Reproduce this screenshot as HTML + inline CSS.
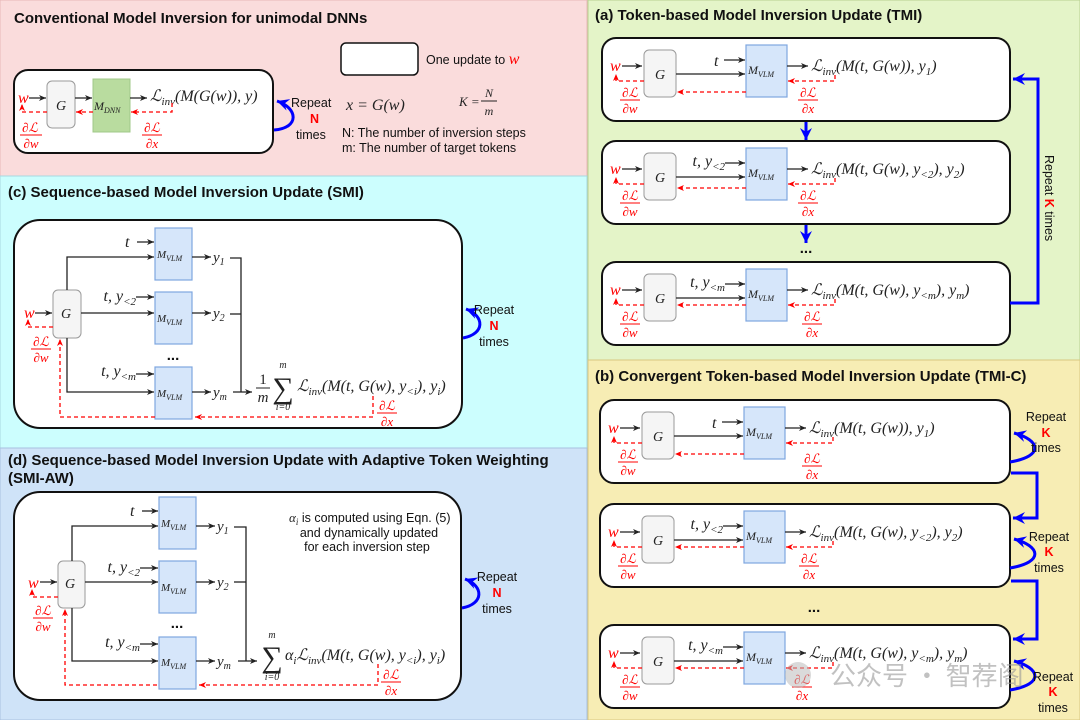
<!DOCTYPE html>
<html><head><meta charset="utf-8"><style>
html,body{margin:0;padding:0;background:#fff}
svg{display:block}
.t{font-family:"Liberation Sans",sans-serif;font-weight:bold;font-size:15px;fill:#111}
.s{font-family:"Liberation Sans",sans-serif;font-size:12.5px;fill:#111}
.m{font-family:"Liberation Serif",serif;font-style:italic;fill:#222}
.r{fill:#f00}
.row rect.b{fill:#fff;stroke:#111;stroke-width:2}
.g{fill:#f5f5f5;stroke:#9a9a9a;stroke-width:1}
.v{fill:#d6e6fa;stroke:#7ea6e0;stroke-width:1.2}
.k{stroke:#222;stroke-width:1.3;fill:none}
.d{stroke:#f00;stroke-width:1.3;fill:none;stroke-dasharray:4 3}
.bl{stroke:#0000ff;stroke-width:3;fill:none}
</style></head><body>
<svg width="1080" height="720" viewBox="0 0 1080 720" xmlns="http://www.w3.org/2000/svg">
<defs>
<marker id="ak" markerWidth="8" markerHeight="8" refX="7" refY="4" orient="auto" markerUnits="userSpaceOnUse"><path d="M0,1 L7,4 L0,7 L2,4z" fill="#222"/></marker>
<marker id="ar" markerWidth="8" markerHeight="8" refX="7" refY="4" orient="auto" markerUnits="userSpaceOnUse"><path d="M0,1 L7,4 L0,7 L2,4z" fill="#f00"/></marker>
<marker id="ab" markerWidth="14" markerHeight="14" refX="12" refY="7" orient="auto" markerUnits="userSpaceOnUse"><path d="M0,1 L12,7 L0,13 L4,7z" fill="#0000ff"/></marker>
</defs>
<!-- panels -->
<rect x="0" y="0" width="587" height="176" fill="#fadcdc" stroke="#e8b8b8"/>
<rect x="0" y="176" width="587" height="272" fill="#ccfefe" stroke="#a8d8e0"/>
<rect x="0" y="448" width="587" height="272" fill="#cfe3f8" stroke="#a8c0e0"/>
<rect x="588" y="0" width="492" height="360" fill="#e4f4c8" stroke="#b8d090"/>
<rect x="588" y="360" width="492" height="360" fill="#f7edb4" stroke="#d8c880"/>

<!-- ===== Conventional ===== -->
<text class="t" x="14" y="23">Conventional Model Inversion for unimodal DNNs</text>
<rect x="14" y="70" width="259" height="83" rx="14" fill="#fff" stroke="#111" stroke-width="2"/>
<text class="m r" x="18" y="103" font-size="16">w</text>
<line class="k" x1="29" y1="98" x2="46" y2="98" marker-end="url(#ak)"/>
<rect class="g" x="47" y="81" width="28" height="47" rx="5"/>
<text class="m" x="56" y="110" font-size="14">G</text>
<line class="k" x1="75" y1="98" x2="92" y2="98" marker-end="url(#ak)"/>
<rect x="93" y="79" width="37" height="53" fill="#b9dc9f" stroke="#a0c888"/>
<text class="m" x="94" y="110" font-size="12">M<tspan font-size="8" dy="3">DNN</tspan></text>
<line class="k" x1="130" y1="98" x2="147" y2="98" marker-end="url(#ak)"/>
<text class="m" x="150" y="101" font-size="16">ℒ<tspan font-size="11" dy="4">inv</tspan><tspan dy="-4">(M(G(w)), y)</tspan></text>
<path class="d" d="M172,103 V112 H131" marker-end="url(#ar)"/>
<path class="d" d="M93,112 H76" marker-end="url(#ar)"/>
<path class="d" d="M47,112 H22 V104" marker-end="url(#ar)"/>
<text class="m r" x="30" y="132" font-size="13" text-anchor="middle">∂ℒ</text>
<line x1="20" y1="135" x2="42" y2="135" stroke="#f00" stroke-width="1"/>
<text class="m r" x="31" y="148" font-size="13" text-anchor="middle">∂w</text>
<text class="m r" x="152" y="132" font-size="13" text-anchor="middle">∂ℒ</text>
<line x1="142" y1="135" x2="162" y2="135" stroke="#f00" stroke-width="1"/>
<text class="m r" x="152" y="148" font-size="13" text-anchor="middle">∂x</text>
<path class="bl" d="M274,130 C300,128 298,108 277,101" marker-end="url(#ab)"/>
<text class="s" x="291" y="107">Repeat</text>
<text class="s" x="310" y="123" font-weight="bold" fill="#f00" style="fill:#f00">N</text>
<text class="s" x="296" y="139">times</text>
<rect x="341" y="43" width="77" height="32" rx="5" fill="#fff" stroke="#111" stroke-width="1.5"/>
<text class="s" x="426" y="64">One update to <tspan class="m r" font-size="16">w</tspan></text>
<text class="m" x="346" y="110" font-size="16">x = G(w)</text>
<text class="m" x="459" y="106" font-size="13">K =</text>
<text class="m" x="489" y="97" font-size="12" text-anchor="middle">N</text>
<line x1="481" y1="101" x2="497" y2="101" stroke="#222" stroke-width="1"/>
<text class="m" x="489" y="115" font-size="12" text-anchor="middle">m</text>
<text class="s" x="342" y="137">N: The number of inversion steps</text>
<text class="s" x="342" y="152">m: The number of target tokens</text>

<!-- ===== (a) ===== -->
<text class="t" x="595" y="20">(a) Token-based Model Inversion Update (TMI)</text>

<!-- ROW a1 -->
<g transform="translate(602,38)">
<rect x="0" y="0" width="408" height="83" rx="14" fill="#fff" stroke="#111" stroke-width="2"/>
<text class="m r" x="8" y="33" font-size="16">w</text>
<line class="k" x1="20" y1="28" x2="40" y2="28" marker-end="url(#ak)"/>
<rect class="g" x="42" y="12" width="32" height="47" rx="5"/>
<text class="m" x="53" y="41" font-size="14">G</text>
<line class="k" x1="74" y1="36" x2="143" y2="36" marker-end="url(#ak)"/>
<text class="m" x="112" y="28" font-size="16">t</text>
<line class="k" x1="122" y1="22" x2="143" y2="22" marker-end="url(#ak)"/>
<rect class="v" x="144" y="7" width="41" height="52"/>
<text class="m" x="146" y="36" font-size="12">M<tspan font-size="8" dy="3">VLM</tspan></text>
<line class="k" x1="185" y1="28" x2="206" y2="28" marker-end="url(#ak)"/>
<text class="m" x="209" y="33" font-size="16">ℒ<tspan font-size="11" dy="4">inv</tspan><tspan dy="-4">(M(t, G(w)), y</tspan><tspan font-size="11" dy="4">1</tspan><tspan dy="-4">)</tspan></text>
<path class="d" d="M233,37 V43 H186" marker-end="url(#ar)"/>
<path class="d" d="M144,54 H75" marker-end="url(#ar)"/>
<path class="d" d="M42,43 H14 V36" marker-end="url(#ar)"/>
<text class="m r" x="28" y="59" font-size="13" text-anchor="middle">∂ℒ</text>
<line x1="18" y1="62" x2="38" y2="62" stroke="#f00"/>
<text class="m r" x="28" y="75" font-size="13" text-anchor="middle">∂w</text>
<text class="m r" x="206" y="59" font-size="13" text-anchor="middle">∂ℒ</text>
<line x1="196" y1="62" x2="216" y2="62" stroke="#f00"/>
<text class="m r" x="206" y="75" font-size="13" text-anchor="middle">∂x</text>
</g>
<!-- ROW a2 -->
<g transform="translate(602,141)">
<rect x="0" y="0" width="408" height="83" rx="14" fill="#fff" stroke="#111" stroke-width="2"/>
<text class="m r" x="8" y="33" font-size="16">w</text>
<line class="k" x1="20" y1="28" x2="40" y2="28" marker-end="url(#ak)"/>
<rect class="g" x="42" y="12" width="32" height="47" rx="5"/>
<text class="m" x="53" y="41" font-size="14">G</text>
<line class="k" x1="74" y1="36" x2="143" y2="36" marker-end="url(#ak)"/>
<text class="m" x="123" y="25" font-size="16" text-anchor="end">t, y<tspan font-size="11" dy="4">&lt;2</tspan></text>
<line class="k" x1="123" y1="22" x2="143" y2="22" marker-end="url(#ak)"/>
<rect class="v" x="144" y="7" width="41" height="52"/>
<text class="m" x="146" y="36" font-size="12">M<tspan font-size="8" dy="3">VLM</tspan></text>
<line class="k" x1="185" y1="28" x2="206" y2="28" marker-end="url(#ak)"/>
<text class="m" x="209" y="33" font-size="16">ℒ<tspan font-size="11" dy="4">inv</tspan><tspan dy="-4">(M(t, G(w), y</tspan><tspan font-size="11" dy="4">&lt;2</tspan><tspan dy="-4">), y</tspan><tspan font-size="11" dy="4">2</tspan><tspan dy="-4">)</tspan></text>
<path class="d" d="M233,37 V43 H186" marker-end="url(#ar)"/>
<path class="d" d="M144,47 H75" marker-end="url(#ar)"/>
<path class="d" d="M42,43 H14 V36" marker-end="url(#ar)"/>
<text class="m r" x="28" y="59" font-size="13" text-anchor="middle">∂ℒ</text>
<line x1="18" y1="62" x2="38" y2="62" stroke="#f00"/>
<text class="m r" x="28" y="75" font-size="13" text-anchor="middle">∂w</text>
<text class="m r" x="206" y="59" font-size="13" text-anchor="middle">∂ℒ</text>
<line x1="196" y1="62" x2="216" y2="62" stroke="#f00"/>
<text class="m r" x="206" y="75" font-size="13" text-anchor="middle">∂x</text>
</g>
<!-- ROW a3 -->
<g transform="translate(602,262)">
<rect x="0" y="0" width="408" height="83" rx="14" fill="#fff" stroke="#111" stroke-width="2"/>
<text class="m r" x="8" y="33" font-size="16">w</text>
<line class="k" x1="20" y1="28" x2="40" y2="28" marker-end="url(#ak)"/>
<rect class="g" x="42" y="12" width="32" height="47" rx="5"/>
<text class="m" x="53" y="41" font-size="14">G</text>
<line class="k" x1="74" y1="36" x2="143" y2="36" marker-end="url(#ak)"/>
<text class="m" x="123" y="25" font-size="16" text-anchor="end">t, y<tspan font-size="11" dy="4">&lt;m</tspan></text>
<line class="k" x1="123" y1="22" x2="143" y2="22" marker-end="url(#ak)"/>
<rect class="v" x="144" y="7" width="41" height="52"/>
<text class="m" x="146" y="36" font-size="12">M<tspan font-size="8" dy="3">VLM</tspan></text>
<line class="k" x1="185" y1="28" x2="206" y2="28" marker-end="url(#ak)"/>
<text class="m" x="209" y="33" font-size="16">ℒ<tspan font-size="11" dy="4">inv</tspan><tspan dy="-4">(M(t, G(w), y</tspan><tspan font-size="11" dy="4">&lt;m</tspan><tspan dy="-4">), y</tspan><tspan font-size="11" dy="4">m</tspan><tspan dy="-4">)</tspan></text>
<path class="d" d="M233,37 V43 H186" marker-end="url(#ar)"/>
<path class="d" d="M144,43 H75" marker-end="url(#ar)"/>
<path class="d" d="M42,43 H14 V36" marker-end="url(#ar)"/>
<text class="m r" x="28" y="59" font-size="13" text-anchor="middle">∂ℒ</text>
<line x1="18" y1="62" x2="38" y2="62" stroke="#f00"/>
<text class="m r" x="28" y="75" font-size="13" text-anchor="middle">∂w</text>
<text class="m r" x="210" y="59" font-size="13" text-anchor="middle">∂ℒ</text>
<line x1="200" y1="62" x2="220" y2="62" stroke="#f00"/>
<text class="m r" x="210" y="75" font-size="13" text-anchor="middle">∂x</text>
</g>
<line class="bl" x1="806" y1="122" x2="806" y2="140" marker-end="url(#ab)"/>
<line class="bl" x1="806" y1="225" x2="806" y2="243" marker-end="url(#ab)"/>
<text class="t" x="806" y="253" text-anchor="middle">...</text>
<path class="bl" d="M1010,303 H1038 V79 H1013" marker-end="url(#ab)"/>
<text class="s" transform="translate(1045,155) rotate(90)" font-size="13">Repeat <tspan font-weight="bold" style="fill:#f00">K</tspan> times</text>

<!-- ===== (b) ===== -->
<text class="t" x="595" y="381">(b) Convergent Token-based Model Inversion Update (TMI-C)</text>
<g transform="translate(600,400)">
<rect x="0" y="0" width="410" height="83" rx="14" fill="#fff" stroke="#111" stroke-width="2"/>
<text class="m r" x="8" y="33" font-size="16">w</text>
<line class="k" x1="20" y1="28" x2="40" y2="28" marker-end="url(#ak)"/>
<rect class="g" x="42" y="12" width="32" height="47" rx="5"/>
<text class="m" x="53" y="41" font-size="14">G</text>
<line class="k" x1="74" y1="36" x2="143" y2="36" marker-end="url(#ak)"/>
<text class="m" x="112" y="28" font-size="16">t</text>
<line class="k" x1="122" y1="22" x2="143" y2="22" marker-end="url(#ak)"/>
<rect class="v" x="144" y="7" width="41" height="52"/>
<text class="m" x="146" y="36" font-size="12">M<tspan font-size="8" dy="3">VLM</tspan></text>
<line class="k" x1="185" y1="28" x2="206" y2="28" marker-end="url(#ak)"/>
<text class="m" x="209" y="33" font-size="16">ℒ<tspan font-size="11" dy="4">inv</tspan><tspan dy="-4">(M(t, G(w)), y</tspan><tspan font-size="11" dy="4">1</tspan><tspan dy="-4">)</tspan></text>
<path class="d" d="M233,37 V43 H186" marker-end="url(#ar)"/>
<path class="d" d="M144,54 H75" marker-end="url(#ar)"/>
<path class="d" d="M42,43 H14 V36" marker-end="url(#ar)"/>
<text class="m r" x="28" y="59" font-size="13" text-anchor="middle">∂ℒ</text>
<line x1="18" y1="62" x2="38" y2="62" stroke="#f00"/>
<text class="m r" x="28" y="75" font-size="13" text-anchor="middle">∂w</text>
<text class="m r" x="212" y="63" font-size="13" text-anchor="middle">∂ℒ</text>
<line x1="202" y1="66" x2="222" y2="66" stroke="#f00"/>
<text class="m r" x="212" y="79" font-size="13" text-anchor="middle">∂x</text>
</g>
<g transform="translate(600,504)">
<rect x="0" y="0" width="410" height="83" rx="14" fill="#fff" stroke="#111" stroke-width="2"/>
<text class="m r" x="8" y="33" font-size="16">w</text>
<line class="k" x1="20" y1="28" x2="40" y2="28" marker-end="url(#ak)"/>
<rect class="g" x="42" y="12" width="32" height="47" rx="5"/>
<text class="m" x="53" y="41" font-size="14">G</text>
<line class="k" x1="74" y1="36" x2="143" y2="36" marker-end="url(#ak)"/>
<text class="m" x="123" y="25" font-size="16" text-anchor="end">t, y<tspan font-size="11" dy="4">&lt;2</tspan></text>
<line class="k" x1="123" y1="22" x2="143" y2="22" marker-end="url(#ak)"/>
<rect class="v" x="144" y="7" width="41" height="52"/>
<text class="m" x="146" y="36" font-size="12">M<tspan font-size="8" dy="3">VLM</tspan></text>
<line class="k" x1="185" y1="28" x2="206" y2="28" marker-end="url(#ak)"/>
<text class="m" x="209" y="33" font-size="16">ℒ<tspan font-size="11" dy="4">inv</tspan><tspan dy="-4">(M(t, G(w), y</tspan><tspan font-size="11" dy="4">&lt;2</tspan><tspan dy="-4">), y</tspan><tspan font-size="11" dy="4">2</tspan><tspan dy="-4">)</tspan></text>
<path class="d" d="M233,37 V43 H186" marker-end="url(#ar)"/>
<path class="d" d="M144,43 H75" marker-end="url(#ar)"/>
<path class="d" d="M42,43 H14 V36" marker-end="url(#ar)"/>
<text class="m r" x="28" y="59" font-size="13" text-anchor="middle">∂ℒ</text>
<line x1="18" y1="62" x2="38" y2="62" stroke="#f00"/>
<text class="m r" x="28" y="75" font-size="13" text-anchor="middle">∂w</text>
<text class="m r" x="209" y="59" font-size="13" text-anchor="middle">∂ℒ</text>
<line x1="199" y1="62" x2="219" y2="62" stroke="#f00"/>
<text class="m r" x="209" y="75" font-size="13" text-anchor="middle">∂x</text>
</g>
<g transform="translate(600,625)">
<rect x="0" y="0" width="410" height="83" rx="14" fill="#fff" stroke="#111" stroke-width="2"/>
<text class="m r" x="8" y="33" font-size="16">w</text>
<line class="k" x1="20" y1="28" x2="40" y2="28" marker-end="url(#ak)"/>
<rect class="g" x="42" y="12" width="32" height="47" rx="5"/>
<text class="m" x="53" y="41" font-size="14">G</text>
<line class="k" x1="74" y1="36" x2="143" y2="36" marker-end="url(#ak)"/>
<text class="m" x="123" y="25" font-size="16" text-anchor="end">t, y<tspan font-size="11" dy="4">&lt;m</tspan></text>
<line class="k" x1="123" y1="22" x2="143" y2="22" marker-end="url(#ak)"/>
<rect class="v" x="144" y="7" width="41" height="52"/>
<text class="m" x="146" y="36" font-size="12">M<tspan font-size="8" dy="3">VLM</tspan></text>
<line class="k" x1="185" y1="28" x2="206" y2="28" marker-end="url(#ak)"/>
<text class="m" x="209" y="33" font-size="16">ℒ<tspan font-size="11" dy="4">inv</tspan><tspan dy="-4">(M(t, G(w), y</tspan><tspan font-size="11" dy="4">&lt;m</tspan><tspan dy="-4">), y</tspan><tspan font-size="11" dy="4">m</tspan><tspan dy="-4">)</tspan></text>
<path class="d" d="M233,37 V43 H186" marker-end="url(#ar)"/>
<path class="d" d="M144,43 H75" marker-end="url(#ar)"/>
<path class="d" d="M42,43 H14 V36" marker-end="url(#ar)"/>
<text class="m r" x="30" y="59" font-size="13" text-anchor="middle">∂ℒ</text>
<line x1="20" y1="62" x2="40" y2="62" stroke="#f00"/>
<text class="m r" x="30" y="75" font-size="13" text-anchor="middle">∂w</text>
<text class="m r" x="202" y="59" font-size="13" text-anchor="middle">∂ℒ</text>
<line x1="192" y1="62" x2="212" y2="62" stroke="#f00"/>
<text class="m r" x="202" y="75" font-size="13" text-anchor="middle">∂x</text>
</g>
<text class="t" x="814" y="612" text-anchor="middle">...</text>
<!-- repeat arcs b -->
<path class="bl" d="M1010,462 C1045,456 1040,440 1014,433" marker-end="url(#ab)"/>
<text class="s" x="1046" y="421" text-anchor="middle">Repeat</text>
<text class="s" x="1046" y="437" text-anchor="middle" font-weight="bold" style="fill:#f00">K</text>
<text class="s" x="1046" y="452" text-anchor="middle">times</text>
<path class="bl" d="M1010,568 C1045,562 1040,546 1014,539" marker-end="url(#ab)"/>
<text class="s" x="1049" y="541" text-anchor="middle">Repeat</text>
<text class="s" x="1049" y="556" text-anchor="middle" font-weight="bold" style="fill:#f00">K</text>
<text class="s" x="1049" y="572" text-anchor="middle">times</text>
<path class="bl" d="M1010,690 C1045,684 1040,668 1014,661" marker-end="url(#ab)"/>
<text class="s" x="1053" y="681" text-anchor="middle">Repeat</text>
<text class="s" x="1053" y="696" text-anchor="middle" font-weight="bold" style="fill:#f00">K</text>
<text class="s" x="1053" y="712" text-anchor="middle">times</text>
<path class="bl" d="M1011,473 H1037 V518 H1013" marker-end="url(#ab)"/>
<path class="bl" d="M1011,581 H1037 V639 H1013" marker-end="url(#ab)"/>

<!-- ===== (c) ===== -->
<text class="t" x="8" y="197">(c) Sequence-based Model Inversion Update (SMI)</text>
<rect x="14" y="220" width="448" height="208" rx="26" fill="#fff" stroke="#111" stroke-width="2"/>
<text class="m r" x="24" y="318" font-size="16">w</text>
<line class="k" x1="35" y1="313" x2="52" y2="313" marker-end="url(#ak)"/>
<rect class="g" x="53" y="290" width="28" height="48" rx="5"/>
<text class="m" x="61" y="318" font-size="14">G</text>
<path class="k" d="M67,290 V257 H154" marker-end="url(#ak)"/>
<line class="k" x1="81" y1="313" x2="154" y2="313" marker-end="url(#ak)"/>
<path class="k" d="M67,338 V392 H154" marker-end="url(#ak)"/>
<text class="m" x="125" y="247" font-size="16">t</text>
<line class="k" x1="137" y1="242" x2="154" y2="242" marker-end="url(#ak)"/>
<text class="m" x="136" y="301" font-size="16" text-anchor="end">t, y<tspan font-size="11" dy="4">&lt;2</tspan></text>
<line class="k" x1="136" y1="297" x2="154" y2="297" marker-end="url(#ak)"/>
<text class="m" x="136" y="376" font-size="16" text-anchor="end">t, y<tspan font-size="11" dy="4">&lt;m</tspan></text>
<line class="k" x1="136" y1="374" x2="154" y2="374" marker-end="url(#ak)"/>
<rect class="v" x="155" y="228" width="37" height="52"/>
<rect class="v" x="155" y="292" width="37" height="52"/>
<rect class="v" x="155" y="367" width="37" height="52"/>
<text class="m" x="157" y="258" font-size="11">M<tspan font-size="8" dy="3">VLM</tspan></text>
<text class="m" x="157" y="322" font-size="11">M<tspan font-size="8" dy="3">VLM</tspan></text>
<text class="m" x="157" y="397" font-size="11">M<tspan font-size="8" dy="3">VLM</tspan></text>
<text class="t" x="173" y="360" text-anchor="middle">...</text>
<line class="k" x1="192" y1="257" x2="211" y2="257" marker-end="url(#ak)"/>
<line class="k" x1="192" y1="313" x2="211" y2="313" marker-end="url(#ak)"/>
<line class="k" x1="192" y1="392" x2="211" y2="392" marker-end="url(#ak)"/>
<text class="m" x="213" y="262" font-size="15">y<tspan font-size="10" dy="3">1</tspan></text>
<text class="m" x="213" y="318" font-size="15">y<tspan font-size="10" dy="3">2</tspan></text>
<text class="m" x="213" y="397" font-size="15">y<tspan font-size="10" dy="3">m</tspan></text>
<path class="k" d="M230,258 H241 V392"/>
<line class="k" x1="230" y1="314" x2="241" y2="314"/>
<line class="k" x1="233" y1="392" x2="252" y2="392" marker-end="url(#ak)"/>
<text class="m" x="263" y="384" font-size="15" text-anchor="middle" style="font-style:normal">1</text>
<line x1="256" y1="388" x2="270" y2="388" stroke="#222" stroke-width="1"/>
<text class="m" x="263" y="402" font-size="15" text-anchor="middle">m</text>
<text class="m" x="283" y="398" font-size="30" text-anchor="middle" style="font-style:normal">∑</text>
<text class="m" x="283" y="368" font-size="10" text-anchor="middle">m</text>
<text class="m" x="283" y="410" font-size="10" text-anchor="middle">i=0</text>
<text class="m" x="297" y="391" font-size="16">ℒ<tspan font-size="11" dy="4">inv</tspan><tspan dy="-4">(M(t, G(w), y</tspan><tspan font-size="11" dy="4">&lt;i</tspan><tspan dy="-4">), y</tspan><tspan font-size="11" dy="4">i</tspan><tspan dy="-4">)</tspan></text>
<path class="d" d="M373,396 V417 H195" marker-end="url(#ar)"/>
<path class="d" d="M155,417 H60 V339" marker-end="url(#ar)"/>
<path class="d" d="M53,327 H28 V319" marker-end="url(#ar)"/>
<text class="m r" x="41" y="346" font-size="13" text-anchor="middle">∂ℒ</text>
<line x1="31" y1="349" x2="51" y2="349" stroke="#f00"/>
<text class="m r" x="41" y="362" font-size="13" text-anchor="middle">∂w</text>
<text class="m r" x="387" y="410" font-size="13" text-anchor="middle">∂ℒ</text>
<line x1="377" y1="413" x2="397" y2="413" stroke="#f00"/>
<text class="m r" x="387" y="426" font-size="13" text-anchor="middle">∂x</text>
<path class="bl" d="M463,338 C485,334 485,316 466,309" marker-end="url(#ab)"/>
<text class="s" x="494" y="314" text-anchor="middle">Repeat</text>
<text class="s" x="494" y="330" text-anchor="middle" font-weight="bold" style="fill:#f00">N</text>
<text class="s" x="494" y="346" text-anchor="middle">times</text>

<!-- ===== (d) ===== -->
<text class="t" x="8" y="465">(d) Sequence-based Model Inversion Update with Adaptive Token Weighting</text>
<text class="t" x="8" y="483">(SMI-AW)</text>
<rect x="14" y="492" width="447" height="208" rx="26" fill="#fff" stroke="#111" stroke-width="2"/>
<text class="m r" x="28" y="588" font-size="16">w</text>
<line class="k" x1="40" y1="582" x2="57" y2="582" marker-end="url(#ak)"/>
<rect class="g" x="58" y="561" width="27" height="47" rx="5"/>
<text class="m" x="65" y="588" font-size="14">G</text>
<path class="k" d="M72,561 V526 H158" marker-end="url(#ak)"/>
<line class="k" x1="85" y1="582" x2="158" y2="582" marker-end="url(#ak)"/>
<path class="k" d="M72,608 V661 H158" marker-end="url(#ak)"/>
<text class="m" x="130" y="516" font-size="16">t</text>
<line class="k" x1="142" y1="511" x2="158" y2="511" marker-end="url(#ak)"/>
<text class="m" x="140" y="572" font-size="16" text-anchor="end">t, y<tspan font-size="11" dy="4">&lt;2</tspan></text>
<line class="k" x1="140" y1="568" x2="158" y2="568" marker-end="url(#ak)"/>
<text class="m" x="140" y="647" font-size="16" text-anchor="end">t, y<tspan font-size="11" dy="4">&lt;m</tspan></text>
<line class="k" x1="140" y1="644" x2="158" y2="644" marker-end="url(#ak)"/>
<rect class="v" x="159" y="497" width="37" height="52"/>
<rect class="v" x="159" y="561" width="37" height="52"/>
<rect class="v" x="159" y="637" width="37" height="52"/>
<text class="m" x="161" y="527" font-size="11">M<tspan font-size="8" dy="3">VLM</tspan></text>
<text class="m" x="161" y="591" font-size="11">M<tspan font-size="8" dy="3">VLM</tspan></text>
<text class="m" x="161" y="666" font-size="11">M<tspan font-size="8" dy="3">VLM</tspan></text>
<text class="t" x="177" y="628" text-anchor="middle">...</text>
<line class="k" x1="196" y1="526" x2="215" y2="526" marker-end="url(#ak)"/>
<line class="k" x1="196" y1="582" x2="215" y2="582" marker-end="url(#ak)"/>
<line class="k" x1="196" y1="661" x2="215" y2="661" marker-end="url(#ak)"/>
<text class="m" x="217" y="531" font-size="15">y<tspan font-size="10" dy="3">1</tspan></text>
<text class="m" x="217" y="587" font-size="15">y<tspan font-size="10" dy="3">2</tspan></text>
<text class="m" x="217" y="666" font-size="15">y<tspan font-size="10" dy="3">m</tspan></text>
<path class="k" d="M234,527 H246 V661"/>
<line class="k" x1="234" y1="582" x2="246" y2="582"/>
<line class="k" x1="238" y1="661" x2="257" y2="661" marker-end="url(#ak)"/>
<text class="m" x="272" y="667" font-size="30" text-anchor="middle" style="font-style:normal">∑</text>
<text class="m" x="272" y="638" font-size="10" text-anchor="middle">m</text>
<text class="m" x="272" y="680" font-size="10" text-anchor="middle">i=0</text>
<text class="m" x="285" y="660" font-size="16">α<tspan font-size="11" dy="4">i</tspan><tspan dy="-4">ℒ</tspan><tspan font-size="11" dy="4">inv</tspan><tspan dy="-4">(M(t, G(w), y</tspan><tspan font-size="11" dy="4">&lt;i</tspan><tspan dy="-4">), y</tspan><tspan font-size="11" dy="4">i</tspan><tspan dy="-4">)</tspan></text>
<path class="d" d="M378,664 V685 H199" marker-end="url(#ar)"/>
<path class="d" d="M157,685 H65 V609" marker-end="url(#ar)"/>
<path class="d" d="M58,597 H32 V589" marker-end="url(#ar)"/>
<text class="m r" x="43" y="615" font-size="13" text-anchor="middle">∂ℒ</text>
<line x1="33" y1="618" x2="53" y2="618" stroke="#f00"/>
<text class="m r" x="43" y="631" font-size="13" text-anchor="middle">∂w</text>
<text class="m r" x="391" y="679" font-size="13" text-anchor="middle">∂ℒ</text>
<line x1="381" y1="682" x2="401" y2="682" stroke="#f00"/>
<text class="m r" x="391" y="695" font-size="13" text-anchor="middle">∂x</text>
<text class="s" x="289" y="522" font-size="11"><tspan class="m" font-size="13">α</tspan><tspan class="m" font-size="9" dy="3">i</tspan><tspan dy="-3"> is computed using Eqn. (5)</tspan></text>
<text class="s" x="369" y="537" font-size="11" text-anchor="middle">and dynamically updated</text>
<text class="s" x="367" y="551" font-size="11" text-anchor="middle">for each inversion step</text>
<path class="bl" d="M462,608 C484,604 484,586 465,579" marker-end="url(#ab)"/>
<text class="s" x="497" y="581" text-anchor="middle">Repeat</text>
<text class="s" x="497" y="597" text-anchor="middle" font-weight="bold" style="fill:#f00">N</text>
<text class="s" x="497" y="613" text-anchor="middle">times</text>

<!-- watermark -->
<circle cx="798" cy="675" r="13" fill="#bbb" opacity="0.55"/>
<text x="830" y="685" font-family="'Noto Sans CJK SC',sans-serif" font-size="26" fill="#999" opacity="0.6">公众号 · 智荐阁</text>
</svg>
</body></html>
